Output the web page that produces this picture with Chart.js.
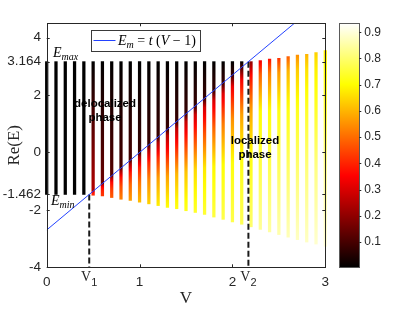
<!DOCTYPE html>
<html><head><meta charset="utf-8">
<style>
html,body{margin:0;padding:0;background:#fff;}
#wrap{position:relative;width:415px;height:310px;overflow:hidden;}
#wrap canvas{position:absolute;left:0;top:0;}
</style>
<script src="https://cdn.jsdelivr.net/npm/chart.js@4/dist/chart.umd.min.js"></script>
</head><body>
<div id="wrap"><canvas id="main" width="415" height="310"></canvas><canvas id="cbar" width="415" height="310"></canvas></div>
<script>
// ---------------- data ----------------
const V = [0,0.1,0.2,0.3,0.4,0.5,0.6,0.7,0.8,0.9,1.0,1.1,1.2,1.3,1.4,1.5,1.6,1.7,1.8,1.9,2.0,2.1,2.2,2.3,2.4,2.5,2.6,2.7,2.8,2.9,3.0];
const Emax = [3.164,3.164,3.164,3.164,3.164,3.164,3.164,3.164,3.164,3.164,3.164,3.164,3.164,3.164,3.164,3.164,3.164,3.164,3.164,3.164,3.164,3.164,3.164,3.20,3.25,3.28,3.34,3.39,3.42,3.48,3.55];
const Emin = [-1.462,-1.462,-1.462,-1.462,-1.462,-1.49,-1.51,-1.57,-1.63,-1.67,-1.73,-1.79,-1.85,-1.91,-1.96,-2.03,-2.09,-2.16,-2.25,-2.33,-2.42,-2.50,-2.59,-2.68,-2.77,-2.86,-2.95,-3.04,-3.12,-3.19,-3.27];
// energy where the localized (coloured) part of each bar starts; null = fully delocalized
const edgeE = [null,null,null,null,null,-1.35,-1.08,-0.81,-0.54,-0.27,0,0.27,0.54,0.81,1.08,1.35,1.62,1.89,2.16,2.43,2.70,2.97,3.164,3.20,3.25,3.28,3.34,3.39,3.42,3.48,3.55];
// colour value (IPR) sampled along the localized part of each bar, from its top to Emin
const iprFrac = [0,0.08,0.3,0.6,1];
const ipr = [null,null,null,null,null,
 [0.25,0.30,0.36,0.39,0.41],
 [0.15,0.25,0.35,0.40,0.43],
 [0.12,0.22,0.36,0.43,0.48],
 [0.10,0.22,0.37,0.46,0.53],
 [0.10,0.22,0.38,0.49,0.57],
 [0.08,0.22,0.39,0.51,0.61],
 [0.08,0.23,0.40,0.54,0.64],
 [0.08,0.24,0.41,0.57,0.68],
 [0.08,0.25,0.38,0.57,0.71],
 [0.08,0.26,0.40,0.60,0.72],
 [0.08,0.27,0.42,0.62,0.73],
 [0.08,0.28,0.44,0.65,0.74],
 [0.08,0.29,0.46,0.67,0.75],
 [0.08,0.30,0.49,0.69,0.76],
 [0.08,0.31,0.52,0.70,0.77],
 [0.08,0.33,0.55,0.71,0.77],
 [0.10,0.34,0.57,0.72,0.78],
 [0.20,0.36,0.58,0.72,0.80],
 [0.33,0.48,0.70,0.76,0.84],
 [0.37,0.52,0.71,0.77,0.85],
 [0.42,0.56,0.72,0.78,0.86],
 [0.48,0.60,0.72,0.79,0.87],
 [0.55,0.63,0.73,0.80,0.88],
 [0.60,0.66,0.74,0.81,0.88],
 [0.64,0.68,0.74,0.82,0.89],
 [0.68,0.70,0.75,0.83,0.90]
];
// mobility edge line E_m = t (V - 1)
const lineV = [0, 3];
const lineE = [-2.7, 5.4];
// critical points
const V1 = 0.458, V2 = 2.172;
const E_LOW = -1.462, E_HIGH = 3.164;
// axes
const yTicks = [-4,-2,-1.462,0,2,3.164,4];
const yTickLabels = ['-4','-2','-1.462','0','2','3.164','4'];
const xTicks = [0,1,2,3];
const xTickLabels = ['0','1','2','3'];
const cbTicks = [0.1,0.2,0.3,0.4,0.5,0.6,0.7,0.8,0.9];
const cbTickLabels = ['0.1','0.2','0.3','0.4','0.5','0.6','0.7','0.8','0.9'];
const CB_MIN = 0.0035, CB_MAX = 0.934;

// ---------------- styles ----------------
const SANS = '"Liberation Sans", Arial, Helvetica, sans-serif';
const SERIF = '"Liberation Serif", "Times New Roman", serif';
const INK = '#262626';

function hot(v){
  let t = (v - CB_MIN)/(CB_MAX - CB_MIN);
  t = Math.max(0, Math.min(1, t));
  const r = Math.min(1, t/0.375);
  const g = Math.max(0, Math.min(1, (t-0.375)/0.375));
  const b = Math.max(0, Math.min(1, (t-0.75)/0.25));
  return 'rgb(' + Math.round(r*255) + ',' + Math.round(g*255) + ',' + Math.round(b*255) + ')';
}

function barGradient(context){
  const i = context.dataIndex;
  const chart = context.chart;
  const ys = chart.scales && chart.scales.y;
  if (!ys || i == null || !ipr[i]) return hot(0);
  const top = ys.getPixelForValue(Emax[i]);
  const bot = ys.getPixelForValue(Emin[i]);
  if (!isFinite(top) || !isFinite(bot) || bot - top < 1) return hot(0);
  const g = chart.ctx.createLinearGradient(0, top, 0, bot);
  const fe = Math.max(0, (Emax[i] - edgeE[i])/(Emax[i] - Emin[i]));
  const s = ipr[i];
  if (fe > 0) g.addColorStop(0, hot(0));
  for (let k = 0; k < s.length - 1; k++){
    for (let j = 0; j < 4; j++){
      const f = iprFrac[k] + (iprFrac[k+1]-iprFrac[k])*j/4;
      const v = s[k] + (s[k+1]-s[k])*j/4;
      g.addColorStop(Math.min(1, fe + f*(1-fe)), hot(v));
    }
  }
  g.addColorStop(1, hot(s[s.length-1]));
  return g;
}

function drawRich(ctx, parts, x, y, align){
  let w = 0;
  parts.forEach(p => { ctx.font = p.font; p.w = ctx.measureText(p.text).width; w += p.w; });
  let cx = align === 'center' ? x - w/2 : x;
  ctx.textAlign = 'left';
  ctx.textBaseline = 'alphabetic';
  parts.forEach(p => { ctx.font = p.font; ctx.fillText(p.text, cx, y + (p.dy || 0)); cx += p.w; });
}

const decorPlugin = {
  id: 'decor',
  afterDraw(chart){
    const {ctx, chartArea: a, scales: {x, y}} = chart;
    ctx.save();
    // axes box
    ctx.strokeStyle = INK; ctx.lineWidth = 1;
    ctx.strokeRect(Math.round(a.left)+0.5, Math.round(a.top)+0.5, Math.round(a.right)-Math.round(a.left), Math.round(a.bottom)-Math.round(a.top));
    // inward ticks
    const tl = 3;
    ctx.beginPath();
    yTicks.forEach(v => {
      const py = Math.round(y.getPixelForValue(v)) + 0.5;
      ctx.moveTo(a.left, py); ctx.lineTo(a.left + tl, py);
      ctx.moveTo(a.right, py); ctx.lineTo(a.right - tl, py);
    });
    xTicks.forEach(v => {
      const px = Math.round(x.getPixelForValue(v)) + 0.5;
      ctx.moveTo(px, a.bottom); ctx.lineTo(px, a.bottom - tl);
      ctx.moveTo(px, a.top); ctx.lineTo(px, a.top + tl);
    });
    ctx.stroke();

    ctx.fillStyle = '#000';
    // E_max / E_min annotations
    drawRich(ctx, [{text:'E', font:'italic 14px '+SERIF},{text:'max', font:'italic 10px '+SERIF, dy:3}], x.getPixelForValue(0.068), y.getPixelForValue(3.31), 'left');
    drawRich(ctx, [{text:'E', font:'italic 14px '+SERIF},{text:'min', font:'italic 10px '+SERIF, dy:3}], x.getPixelForValue(0.046), y.getPixelForValue(-1.84), 'left');
    // phase labels
    ctx.font = 'bold 11.5px ' + SANS;
    ctx.textAlign = 'center'; ctx.textBaseline = 'middle';
    ctx.fillText('delocalized', x.getPixelForValue(0.628), y.getPixelForValue(1.70));
    ctx.fillText('phase', x.getPixelForValue(0.628), y.getPixelForValue(1.20));
    ctx.fillText('localized', x.getPixelForValue(2.243), y.getPixelForValue(0.42));
    ctx.fillText('phase', x.getPixelForValue(2.243), y.getPixelForValue(-0.09));
    // V1 / V2 labels under the axis
    ctx.fillStyle = INK;
    drawRich(ctx, [{text:'V', font:'14px '+SERIF},{text:'1', font:'11px '+SANS, dy:5}], x.getPixelForValue(V1), a.bottom + 13.4, 'center');
    drawRich(ctx, [{text:'V', font:'14px '+SERIF},{text:'2', font:'11px '+SANS, dy:5}], x.getPixelForValue(V2), a.bottom + 13.4, 'center');

    // legend
    const lx = a.left + 43.8, ly = a.top + 6.2, lw = 108.5, lh = 21;
    ctx.fillStyle = '#fff';
    ctx.fillRect(lx, ly, lw, lh);
    ctx.strokeStyle = '#3a3a3a'; ctx.lineWidth = 1;
    ctx.strokeRect(Math.round(lx)+0.5, Math.round(ly)+0.5, Math.round(lw), Math.round(lh));
    const ds = chart.data.datasets[0];
    ctx.strokeStyle = ds.borderColor; ctx.lineWidth = 1;
    ctx.beginPath(); ctx.moveTo(lx + 3, ly + 11); ctx.lineTo(lx + 25, ly + 11); ctx.stroke();
    ctx.fillStyle = '#000';
    drawRich(ctx, [
      {text:'E', font:'italic 14px '+SERIF},
      {text:'m', font:'italic 10px '+SERIF, dy:3},
      {text:' = ', font:'14px '+SERIF},
      {text:'t', font:'italic 14px '+SERIF},
      {text:' (', font:'14px '+SERIF},
      {text:'V', font:'italic 14px '+SERIF},
      {text:' \u2212 1)', font:'14px '+SERIF}
    ], lx + 27.5, ly + 15.5, 'left');
    ctx.restore();
  }
};

new Chart(document.getElementById('main'), {
  type: 'bar',
  data: {
    datasets: [
      { type:'line', label:'E_m = t (V \u2212 1)', data: lineV.map((v,i)=>({x:v, y:lineE[i]})),
        borderColor:'#2342ff', borderWidth:1, pointRadius:0, fill:false, order:1 },
      { type:'line', label:'V1', data:[{x:V1,y:E_LOW},{x:V1,y:-4}], borderColor:'#1a1a1a', borderWidth:2, borderDash:[6,3], pointRadius:0, fill:false, order:2 },
      { type:'line', label:'V2', data:[{x:V2,y:E_HIGH},{x:V2,y:-4}], borderColor:'#1a1a1a', borderWidth:2, borderDash:[6,3], pointRadius:0, fill:false, order:2 },
      { type:'bar', label:'Re(E)', data: V.map((v,i)=>({x:v, y:[Emin[i], Emax[i]]})),
        backgroundColor: barGradient, borderWidth:0, barThickness:2.6, clip:false, order:3 }
    ]
  },
  options: {
    responsive:false, animation:false, events:[],
    layout:{padding:{left:0, top:23.3, right:89.7, bottom:0}},
    plugins:{legend:{display:false}, tooltip:{enabled:false}},
    scales:{
      x:{ type:'linear', min:0, max:3, offset:false,
          afterBuildTicks: s => { s.ticks = xTicks.map(v=>({value:v})); },
          afterFit: s => { s.height = 42.7; },
          grid:{display:false, drawTicks:false}, border:{display:false},
          ticks:{autoSkip:false, maxRotation:0, padding:7, color:INK, font:{family:SANS, size:13.5},
                 callback:(v,i)=>xTickLabels[i]},
          title:{display:true, text:'V', color:INK, font:{family:SERIF, size:17}, padding:{top:0,bottom:1}} },
      y:{ type:'linear', min:-4, max:4.5,
          afterBuildTicks: s => { s.ticks = yTicks.map(v=>({value:v})); },
          afterFit: s => { s.width = 46.7; },
          grid:{display:false, drawTicks:false}, border:{display:false},
          ticks:{autoSkip:false, padding:5.7, color:INK, font:{family:SANS, size:13.5},
                 callback:(v,i)=>yTickLabels[i]},
          title:{display:true, text:'Re(E)', color:INK, font:{family:SERIF, size:17}, padding:{top:4,bottom:0}} }
    }
  },
  plugins:[decorPlugin]
});

// ---------------- colorbar ----------------
function cbGradient(context){
  const chart = context.chart;
  const ys = chart.scales && chart.scales.y;
  if (!ys) return hot(0.5);
  const b = ys.getPixelForValue(CB_MIN), t = ys.getPixelForValue(CB_MAX);
  if (!isFinite(b) || !isFinite(t)) return hot(0.5);
  const g = chart.ctx.createLinearGradient(0, b, 0, t);
  const n = 40;
  for (let k = 0; k <= n; k++){
    g.addColorStop(k/n, hot(CB_MIN + (CB_MAX-CB_MIN)*k/n));
  }
  return g;
}
const cbPlugin = {
  id:'cbdecor',
  afterDraw(chart){
    const {ctx, chartArea:a, scales:{y}} = chart;
    ctx.save();
    ctx.strokeStyle = '#5a5a5a'; ctx.lineWidth = 1;
    ctx.strokeRect(Math.round(a.left)+0.5, Math.round(a.top)+0.5, Math.round(a.right)-Math.round(a.left), Math.round(a.bottom)-Math.round(a.top));
    ctx.strokeStyle = INK;
    ctx.beginPath();
    cbTicks.forEach(v => {
      const py = Math.round(y.getPixelForValue(v)) + 0.5;
      ctx.moveTo(a.right, py); ctx.lineTo(a.right + 2, py);
    });
    ctx.stroke();
    ctx.restore();
  }
};
new Chart(document.getElementById('cbar'), {
  type:'bar',
  data:{ labels:[''], datasets:[{ data:[[CB_MIN, CB_MAX]], backgroundColor: cbGradient, borderWidth:0, barPercentage:1, categoryPercentage:1 }] },
  options:{
    responsive:false, animation:false, events:[],
    layout:{padding:{left:339, top:23.3, right:25.7, bottom:42.7}},
    plugins:{legend:{display:false}, tooltip:{enabled:false}},
    scales:{
      x:{display:false},
      y:{ position:'right', min:CB_MIN, max:CB_MAX,
          afterBuildTicks: s => { s.ticks = cbTicks.map(v=>({value:v})); },
          afterFit: s => { s.width = 30; },
          grid:{display:false, drawTicks:false}, border:{display:false},
          ticks:{autoSkip:false, padding:5, color:INK, font:{family:SANS, size:12},
                 callback:(v,i)=>cbTickLabels[i]} }
    }
  },
  plugins:[cbPlugin]
});
</script>
</body></html>
